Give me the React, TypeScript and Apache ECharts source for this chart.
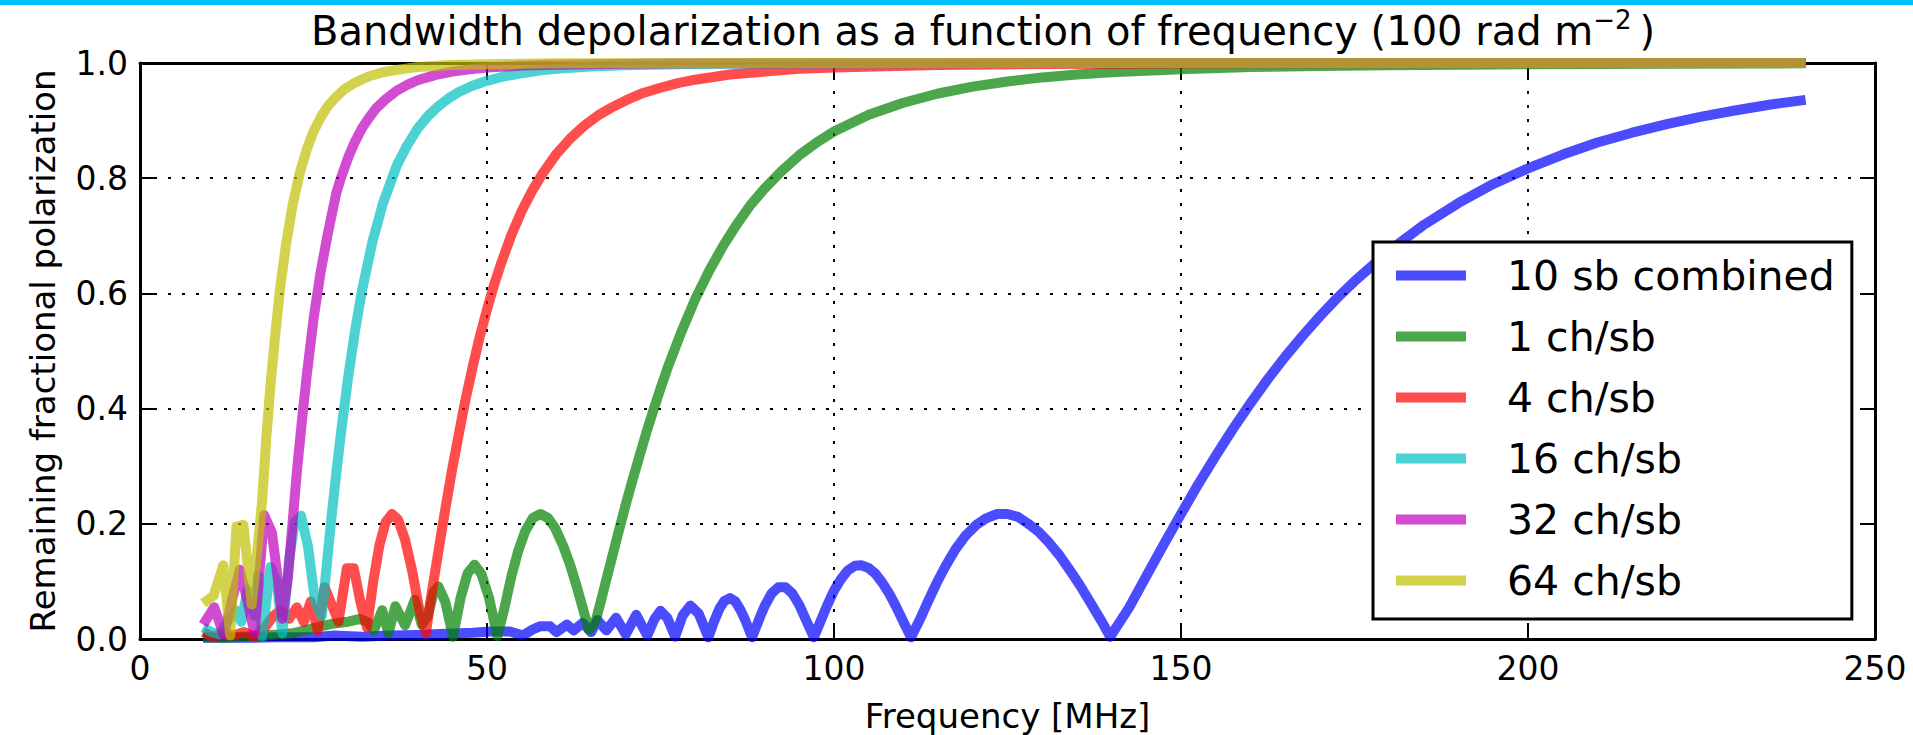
import React, { useEffect, useRef } from "react";
import * as echarts from "echarts";

const FONT = "DejaVu Sans";

const seriesNames = ["10 sb combined", "1 ch/sb", "4 ch/sb", "16 ch/sb", "32 ch/sb", "64 ch/sb"];
const seriesColors = [
  "rgba(0,0,255,0.7)",
  "rgba(0,128,0,0.7)",
  "rgba(255,0,0,0.7)",
  "rgba(0,191,191,0.7)",
  "rgba(191,0,191,0.7)",
  "rgba(191,191,0,0.7)",
];

// [frequency MHz, remaining fractional polarization]
const combined10sb: [number, number][] = [
  [9.1, 0.002], [15, 0.002], [20, 0.003], [25, 0.003], [28, 0.006], [32, 0.004], [36, 0.006],
  [40, 0.007], [44, 0.009], [48, 0.011], [50.4, 0.013], [53.3, 0.013], [55.2, 0.006], [56.5, 0.016],
  [57.6, 0.022], [59.1, 0.022], [60.0, 0.012], [61.5, 0.025], [62.5, 0.015], [63.8, 0.028],
  [65.0, 0.012], [65.9, 0.033], [67.2, 0.015], [68.6, 0.037], [70.0, 0.008], [71.5, 0.042],
  [73.1, 0.006], [74.1, 0.034], [75.0, 0.049], [76.0, 0.036], [77.1, 0.004], [78.2, 0.041],
  [79.3, 0.058], [80.5, 0.044], [81.9, 0.003], [82.7, 0.03], [83.5, 0.053], [84.2, 0.066],
  [85, 0.071], [85.8, 0.065], [86.5, 0.051], [87.2, 0.033], [88.2, 0.003], [89.5, 0.043],
  [90, 0.057], [91, 0.079], [92, 0.09], [93, 0.09], [94, 0.079], [95, 0.059], [96, 0.032],
  [97.1, 0.003], [99, 0.058], [100, 0.084], [101, 0.104], [102, 0.119], [103, 0.127], [104, 0.128],
  [105, 0.123], [106, 0.113], [107, 0.097], [108, 0.078], [109, 0.055], [110, 0.03], [111.1, 0.003],
  [112.3, 0.032], [113.5, 0.064], [114.7, 0.095], [116, 0.125], [117.5, 0.156], [119, 0.18],
  [120.5, 0.198], [122, 0.21], [123.5, 0.217], [125, 0.217], [126.5, 0.212], [128, 0.2],
  [129.5, 0.186], [131, 0.167], [132.5, 0.145], [134, 0.119], [135.5, 0.092], [137, 0.062],
  [138.5, 0.032], [139.8, 0.004], [142.5, 0.054], [145, 0.109], [147.5, 0.164], [150, 0.217],
  [152.5, 0.269], [155, 0.318], [157.5, 0.365], [160, 0.409], [162.5, 0.451], [165, 0.49],
  [167.5, 0.526], [170, 0.56], [172.5, 0.592], [175, 0.621], [180, 0.674], [185, 0.719],
  [190, 0.757], [195, 0.79], [200, 0.817], [205, 0.841], [210, 0.862], [215, 0.879],
  [220, 0.894], [225, 0.907], [230, 0.918], [235, 0.928], [240, 0.936],
];

const ch1: [number, number][] = [
  [9.1, 0.003], [12, 0.002], [15, 0.004], [18, 0.006], [20, 0.008], [22, 0.01], [24, 0.016],
  [26, 0.022], [28, 0.027], [30, 0.03], [31.7, 0.035], [32.7, 0.03], [33.7, 0.015], [34.9, 0.05],
  [35.8, 0.01], [36.8, 0.057], [38.2, 0.024], [39.6, 0.068], [40.6, 0.025], [41.5, 0.04],
  [42.3, 0.081], [43.0, 0.091], [44.0, 0.064], [45.1, 0.004], [46.2, 0.072], [47.2, 0.114],
  [48.2, 0.129], [49.2, 0.113], [50.3, 0.071], [51.5, 0.005], [52.5, 0.053], [53.5, 0.108],
  [54.5, 0.153], [55.5, 0.187], [56.6, 0.21], [57.7, 0.217], [58.8, 0.21], [59.8, 0.193],
  [61, 0.161], [62, 0.128], [63, 0.088], [64, 0.045], [64.7, 0.016], [65.7, 0.033], [66.5, 0.07],
  [67, 0.094], [68, 0.141], [69, 0.188], [70, 0.234], [71, 0.277], [72, 0.319], [73, 0.36],
  [74, 0.398], [75, 0.435], [76, 0.47], [78, 0.533], [80, 0.59], [82, 0.639], [84, 0.682],
  [86, 0.72], [88, 0.754], [90, 0.782], [92.5, 0.813], [95, 0.84], [97.5, 0.862], [100, 0.881],
  [105, 0.91], [110, 0.931], [115, 0.947], [120, 0.959], [125, 0.968], [130, 0.975],
  [135, 0.98], [140, 0.984], [150, 0.989], [160, 0.993], [170, 0.995], [180, 0.996],
  [200, 0.998], [220, 0.9989], [240, 0.9994],
];

const ch4: [number, number][] = [
  [9.1, 0.012], [10.5, 0.004], [12, 0.01], [13.5, 0.006], [15, 0.012], [16.5, 0.004], [18, 0.02],
  [19.2, 0.04], [20.3, 0.05], [21.5, 0.035], [22.6, 0.055], [23.6, 0.03], [24.6, 0.065],
  [25.6, 0.015], [26.6, 0.09], [27.6, 0.06], [28.6, 0.03], [29.8, 0.123], [30.8, 0.123],
  [31.8, 0.062], [32.7, 0.02], [33.6, 0.099], [34.5, 0.163], [35.4, 0.203], [36.3, 0.217],
  [37.2, 0.207], [38.2, 0.172], [39.2, 0.119], [40.2, 0.054], [41.2, 0.01], [41.8, 0.063],
  [42.5, 0.115], [43.5, 0.19], [44, 0.226], [44.5, 0.261], [45, 0.296], [45.5, 0.328],
  [46.5, 0.391], [47, 0.421], [48, 0.476], [49, 0.527], [50, 0.572], [51, 0.614], [52, 0.651],
  [53.5, 0.701], [55, 0.743], [56.5, 0.778], [58, 0.808], [60, 0.842], [62, 0.869], [64, 0.891],
  [66, 0.909], [68, 0.923], [70, 0.935], [72.5, 0.948], [75, 0.957], [77.5, 0.965], [80, 0.971],
  [85, 0.98], [90, 0.985], [95, 0.99], [100, 0.992], [115, 0.9967], [130, 0.9984],
  [160, 0.9995], [200, 0.9999], [240, 1.0],
];

const ch16: [number, number][] = [
  [9.1, 0.02], [10.3, 0.012], [11.5, 0.008], [12.6, 0.03], [13.8, 0.05], [14.6, 0.03],
  [15.5, 0.085], [16.5, 0.04], [17.0, 0.11], [17.6, 0.005], [18.8, 0.125], [19.7, 0.1],
  [20.5, 0.01], [21.5, 0.139], [22.3, 0.203], [23.2, 0.214], [24.2, 0.161], [25.2, 0.068],
  [26.2, 0.04], [27.0, 0.14], [27.6, 0.212], [28.3, 0.29], [29.0, 0.362], [30, 0.455],
  [31, 0.536], [32, 0.606], [33.5, 0.69], [35, 0.756], [37, 0.822], [38.5, 0.857], [40, 0.886],
  [41.5, 0.908], [43, 0.925], [44.5, 0.939], [46, 0.95], [48, 0.961], [50, 0.969], [52.5, 0.977],
  [55, 0.982], [57.5, 0.987], [60, 0.99], [65, 0.994], [70, 0.996], [77.5, 0.9978],
  [85, 0.9987], [95, 0.9993], [110, 0.9997], [150, 1.0], [240, 1.0],
];

const ch32: [number, number][] = [
  [9.1, 0.025], [10.7, 0.055], [12.1, 0.006], [13.3, 0.07], [14.4, 0.12], [15.5, 0.065],
  [16.5, 0.01], [17.9, 0.215], [19.0, 0.185], [19.8, 0.11], [20.5, 0.035], [21.3, 0.105],
  [21.9, 0.19], [22.6, 0.29], [23.3, 0.375], [24.0, 0.455], [25.0, 0.555], [26, 0.635],
  [27, 0.7], [28.3, 0.775], [29, 0.802], [30, 0.836], [31, 0.864], [32, 0.887], [33, 0.905],
  [34, 0.921], [35.5, 0.938], [37, 0.952], [38.5, 0.962], [40, 0.97], [42.5, 0.979],
  [45, 0.985], [47.5, 0.989], [50, 0.992], [55, 0.9955], [60, 0.997], [70, 0.9989],
  [80, 0.9995], [120, 1.0], [240, 1.0],
];

const ch64: [number, number][] = [
  [9.1, 0.062], [10.6, 0.075], [12.0, 0.128], [13.0, 0.006], [13.9, 0.195], [14.9, 0.198],
  [16.1, 0.06], [17.0, 0.165], [17.6, 0.24], [18.2, 0.35], [18.8, 0.44], [19.5, 0.53],
  [20.2, 0.61], [21, 0.682], [22, 0.754], [23, 0.808], [24, 0.849], [25, 0.881], [26, 0.905],
  [27, 0.924], [28, 0.938], [29.5, 0.955], [31, 0.966], [33, 0.977], [35, 0.984], [37.5, 0.989],
  [40, 0.993], [45, 0.9964], [50, 0.998], [60, 0.9994], [70, 0.9997], [100, 1.0], [240, 1.0],
];

const titleMain = "Bandwidth depolarization as a function of frequency (100 rad m";
const titleSup = "\u22122";
const xName = "Frequency [MHz]";
const yName = "Remaining fractional polarization";

export default function App() {
  const ref = useRef<HTMLDivElement>(null);

  useEffect(() => {
    if (!ref.current) return;
    const chart = echarts.init(ref.current, undefined, { renderer: "svg" });
    const dataSets = [combined10sb, ch1, ch4, ch16, ch32, ch64];

    const spine = { show: true, onZero: false, lineStyle: { color: "#000", width: 3 } };
    const tick = { show: true, inside: true, length: 15, lineStyle: { color: "#000", width: 2 } };
    const grid = { show: true, lineStyle: { color: "#000", width: 2, type: [3, 11] as any } };

    chart.setOption({
      animation: false,
      backgroundColor: "#fff",
      graphic: [
        { type: "rect", left: 0, top: 0, shape: { width: 1913, height: 5 }, style: { fill: "#00C0FF" } },
      ],
      title: {
        text: `{t|${titleMain}}{sup|${titleSup}}{t|\u2009)}`,
        left: 311,
        top: 7,
        padding: 0,
        textStyle: {
          fontWeight: "normal",
          rich: {
            t: { fontSize: 40, lineHeight: 48, fontFamily: FONT, color: "#000", fontWeight: "normal" },
            sup: {
              fontSize: 26, lineHeight: 34, fontFamily: FONT, color: "#000", fontWeight: "normal",
              verticalAlign: "top",
            },
          },
        },
      },
      grid: {
        left: 140, right: 38, top: 63, bottom: 96, containLabel: false,
        outerBoundsMode: "none",
      },
      legend: {
        show: true,
        orient: "vertical",
        left: 1373,
        top: 242,
        padding: [13, 17, 18, 23],
        itemWidth: 70,
        itemHeight: 10,
        itemGap: 20,
        icon: "rect",
        backgroundColor: "#fff",
        borderColor: "#000",
        borderWidth: 3,
        borderRadius: 0,
        selectedMode: false,
        z: 6,
        textStyle: { fontSize: 41, lineHeight: 41, fontFamily: FONT, color: "#000", padding: [0, 0, 0, 36] },
        data: seriesNames,
      },
      xAxis: [
        {
          type: "value", min: 0, max: 250, interval: 50, position: "bottom", z: 3,
          axisLine: spine, axisTick: tick, splitLine: grid,
          axisLabel: { margin: 13, fontSize: 33, lineHeight: 33, color: "#000", fontFamily: FONT },
          name: xName, nameLocation: "middle", nameGap: 60,
          nameTextStyle: { fontSize: 34, lineHeight: 34, fontFamily: FONT, color: "#000" },
        },
        {
          type: "value", min: 0, max: 250, interval: 50, position: "top", z: 3,
          axisLine: spine, axisTick: tick, splitLine: { show: false }, axisLabel: { show: false },
        },
      ],
      yAxis: [
        {
          type: "value", min: 0, max: 1, interval: 0.2, position: "left", z: 3,
          axisLine: spine, axisTick: tick, splitLine: grid,
          axisLabel: {
            margin: 12, fontSize: 33, lineHeight: 33, color: "#000", fontFamily: FONT,
            formatter: (v: number) => v.toFixed(1),
          },
          name: yName, nameLocation: "middle", nameRotate: 90, nameGap: 80,
          nameTextStyle: { fontSize: 34, lineHeight: 34, fontFamily: FONT, color: "#000" },
        },
        {
          type: "value", min: 0, max: 1, interval: 0.2, position: "right", z: 3,
          axisLine: spine, axisTick: tick, splitLine: { show: false }, axisLabel: { show: false },
        },
      ],
      series: dataSets.map((d, i) => ({
        type: "line",
        name: seriesNames[i],
        data: d,
        xAxisIndex: 0,
        yAxisIndex: 0,
        showSymbol: false,
        symbol: "none",
        silent: true,
        clip: true,
        color: seriesColors[i],
        lineStyle: { width: 10, color: seriesColors[i], cap: "butt", join: "round" },
        emphasis: { disabled: true },
      })),
    });

    return () => chart.dispose();
  }, []);

  return (
    <div
      ref={ref}
      style={{ position: "fixed", left: 0, top: 0, width: 1913, height: 735, background: "#fff" }}
    />
  );
}
